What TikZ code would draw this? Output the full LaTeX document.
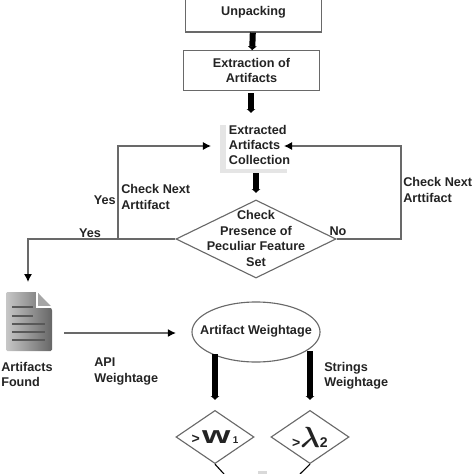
\documentclass[tikz,border=0pt]{standalone}
\usepackage{amsmath}
\usepackage{fontspec}
\setmainfont{Liberation Sans}
\usetikzlibrary{positioning, shapes.geometric, shadows, arrows.meta}
\definecolor{linecol}{RGB}{105, 105, 105}
\definecolor{textcol}{RGB}{35, 35, 35}
\tikzset{
  block/.style={draw=linecol, thick, minimum width=3.42cm, align=center, font=\bfseries\small, text=textcol},
  label/.style={align=left, font=\bfseries\small, text=textcol, inner sep=0pt},
  check/.style={diamond, draw=linecol, thick, aspect=1.45, minimum width=1.95cm, minimum height=1.33cm, inner sep=0pt, font=\bfseries\normalsize, text=textcol},
  flow/.style={-{Latex[length=2mm, width=2mm, black]}, draw=linecol, thick},
  bigflow/.style={-{Latex[length=1mm, width=2.4mm]}, line width=1.5mm, black},
}

\begin{document}
\begin{tikzpicture}[x=0.025cm, y=-0.025cm]
  \clip (0,0) rectangle (474,474);
  \node[block, minimum height=1cm] (unpack) at (253.5,12) {Unpacking};
  \node[block, minimum height=0.98cm] (extract) at (251.5,70.5) {Extraction of\\Artifacts};
  \node[label, fill=white, inner xsep=2pt, inner ysep=3pt,
        general shadow={shadow xshift=-1.5mm, shadow yshift=-1mm, fill=black!10}] (coll) at (259.5,145) {Extracted\\Artifacts\\Collection};
  \node[diamond, draw=linecol, thick, minimum width=4cm, minimum height=1.95cm, inner sep=0pt] (feature) at (256,239) {};
  \node[label, align=center] (featuretext) at (256,238.5) {Check\\Presence of\\Peculiar Feature\\Set};

  \coordinate (extractout) at (251,93);
  \coordinate (collin) at (251,113);
  \coordinate (collout) at (256,173);
  \coordinate (featurein) at (256,193);
  \draw[bigflow] (unpack) -- (extract);
  \draw[bigflow] (extractout) -- (collin);
  \draw[bigflow] (collout) -- (featurein);

  \coordinate (leftup) at (118,146);
  \coordinate (leftdown) at (118,239);
  \coordinate (leftend) at (211,146);
  \coordinate (rightup) at (401,146);
  \coordinate (rightdown) at (401,239);
  \coordinate (rightend) at (284,146);
  \coordinate (foundtop) at (28,239);
  \coordinate (foundin) at (28,282);

  \draw[flow] (leftdown) -- (leftup) -- (leftend);
  \draw[flow] (feature.east) -- (rightdown) -- (rightup) -- (rightend);
  \draw[flow] (feature.west) -- (foundtop) -- (foundin);

  \node[label, anchor=west] (nextl) at (121,197) {Check Next\\Arttifact};
  \node[label, anchor=east] (yesup) at (116,200) {Yes};
  \node[label] (yeslow) at (90,233) {Yes};
  \node[label] (nolab) at (338,231) {No};
  \node[label, anchor=west] (nextr) at (403,190) {Check Next\\Arttifact};

  % document icon
  \shade[left color=black!22, right color=black!60, rounded corners=1pt]
    (6,292) -- (37,292) -- (52,309) -- (52,351) -- (6,351) -- cycle;
  \fill[black!35] (37,292) -- (37,306) -- (51,306) -- cycle;
  \draw[white, thick] (37,292) -- (37,307) -- (52,307);
  \foreach \y/\e in {307/33, 316/33, 324/45, 332/45, 340/45}
    \draw[black!65, line width=0.55mm] (12,\y) -- (\e,\y);
  \coordinate (docright) at (64,333);
  \coordinate (weightin) at (176,333);

  \node[label, anchor=north west] (found) at (1,362) {Artifacts\\Found};
  \node[label, anchor=north west] (apilab) at (94,358) {API\\Weightage};
  \node[label, anchor=north west] (strlab) at (324,362) {Strings\\Weightage};

  \node[ellipse, draw=linecol, thick, minimum width=3.2cm, minimum height=1.5cm, inner sep=0pt] (weight) at (256,332) {};
  \node[label] (weighttext) at (256,331) {Artifact Weightage};
  \draw[flow, line width=0.5mm] (docright) -- (weightin);

  \node[check] (wone) at (215,437) {>\,\scalebox{1.5}[1]{\LARGE w}\,{\scriptsize 1}};
  \node[check] (wtwo) at (310,437) {>{\huge$\boldsymbol{\lambda}$}2};

  \coordinate (wonein) at (215,400);
  \coordinate (wtwoin) at (310,400);
  \coordinate (weightl) at (215,354);
  \coordinate (weightr) at (310,351);
  \draw[bigflow] (weightl) -- (wonein);
  \draw[bigflow] (weightr) -- (wtwoin);

  \coordinate (mergel) at (224,474);
  \coordinate (merger) at (300,474);
  \draw[black, thick] (wone.south) -- (mergel);
  \draw[black, thick] (wtwo.south) -- (merger);
  \fill[black!15] (258,471) rectangle (267,474);
\end{tikzpicture}
\end{document}
